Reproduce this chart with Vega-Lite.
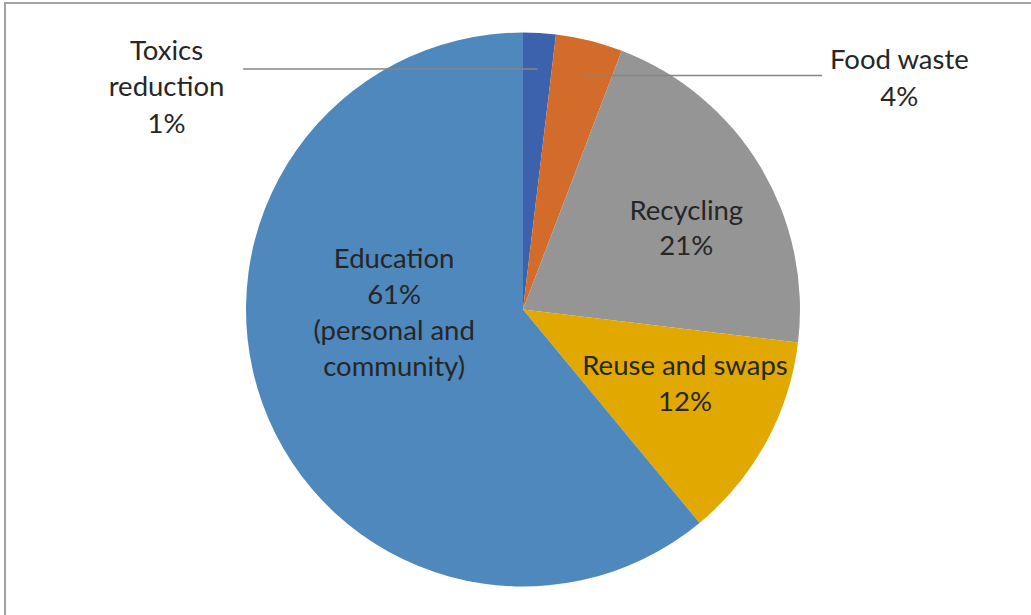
{
  "$schema": "https://vega.github.io/schema/vega-lite/v6.json",
  "width": 1036,
  "height": 613,
  "autosize": {"type": "none"},
  "padding": {"left": 5, "top": 3, "right": 0, "bottom": 0},
  "background": "white",
  "config": {"view": {"stroke": "#a3a3a3", "strokeWidth": 2}},
  "data": {
    "values": [
      {"category": "Toxics reduction", "value": 1.9, "label": "Toxics\nreduction\n1%"},
      {"category": "Food waste", "value": 3.9, "label": "Food waste\n4%"},
      {"category": "Recycling", "value": 21.1, "label": "Recycling\n21%"},
      {"category": "Reuse and swaps", "value": 12.1, "label": "Reuse and swaps\n12%"},
      {"category": "Education", "value": 61.0, "label": "Education\n61%\n(personal and\ncommunity)"}
    ]
  },
  "transform": [{"window": [{"op": "row_number", "as": "idx"}]}],
  "layer": [
    {
      "encoding": {
        "theta": {"field": "value", "type": "quantitative", "stack": true},
        "order": {"field": "idx", "type": "quantitative"}
      },
      "layer": [
        {
          "mark": {"type": "arc", "radius": 277},
          "encoding": {
            "color": {
              "field": "category",
              "type": "nominal",
              "scale": {
                "domain": ["Toxics reduction", "Food waste", "Recycling", "Reuse and swaps", "Education"],
                "range": ["#3c62ae", "#d36b2a", "#959595", "#e1a800", "#4e88bd"]
              },
              "legend": null
            }
          }
        },
        {
          "mark": {"type": "text", "radius": 185, "dx": 5, "dy": -2, "font": "Lato", "fontSize": 27.5, "lineHeight": 35.5, "lineBreak": "\n", "color": "#262626"},
          "encoding": {
            "detail": {"field": "category", "type": "nominal"},
            "text": {"condition": {"test": "datum.category === 'Recycling'", "field": "label"}, "value": ""}
          }
        },
        {
          "mark": {"type": "text", "radius": 180, "dx": 4, "dy": -29, "font": "Lato", "fontSize": 27.5, "lineHeight": 36.5, "lineBreak": "\n", "color": "#262626"},
          "encoding": {
            "detail": {"field": "category", "type": "nominal"},
            "text": {"condition": {"test": "datum.category === 'Reuse and swaps'", "field": "label"}, "value": ""}
          }
        },
        {
          "mark": {"type": "text", "radius": 137, "dx": 0, "dy": -96, "font": "Lato", "fontSize": 27.5, "lineHeight": 36, "lineBreak": "\n", "color": "#262626"},
          "encoding": {
            "detail": {"field": "category", "type": "nominal"},
            "text": {"condition": {"test": "datum.category === 'Education'", "field": "label"}, "value": ""}
          }
        },
        {
          "mark": {"type": "text", "radius": 277, "dx": -373, "dy": 19, "font": "Lato", "fontSize": 27.5, "lineHeight": 36.5, "lineBreak": "\n", "color": "#262626"},
          "encoding": {
            "detail": {"field": "category", "type": "nominal"},
            "text": {"condition": {"test": "datum.category === 'Toxics reduction'", "field": "label"}, "value": ""}
          }
        },
        {
          "mark": {"type": "text", "radius": 277, "dx": 310, "dy": 20, "font": "Lato", "fontSize": 27.5, "lineHeight": 37, "lineBreak": "\n", "color": "#262626"},
          "encoding": {
            "detail": {"field": "category", "type": "nominal"},
            "text": {"condition": {"test": "datum.category === 'Food waste'", "field": "label"}, "value": ""}
          }
        }
      ]
    },
    {
      "transform": [
        {"joinaggregate": [{"op": "sum", "field": "value", "as": "total"}]},
        {"window": [{"op": "sum", "field": "value", "as": "cum"}], "sort": [{"field": "idx"}], "frame": [null, 0]},
        {"filter": "datum.category === 'Toxics reduction' || datum.category === 'Food waste'"},
        {"calculate": "2 * PI * (datum.cum - datum.value / 2) / datum.total", "as": "ang"},
        {"calculate": "0.87 * sin(datum.ang)", "as": "x_in"},
        {"calculate": "0.87 * cos(datum.ang)", "as": "y_in"},
        {"calculate": "datum.category === 'Toxics reduction' ? -1.01 : 1.08", "as": "x_out"}
      ],
      "mark": {"type": "rule", "color": "#858585", "strokeWidth": 1.5},
      "encoding": {
        "x": {"field": "x_in", "type": "quantitative", "scale": {"domain": [-1.87, 1.87], "nice": false, "zero": false}, "axis": null},
        "x2": {"field": "x_out"},
        "y": {"field": "y_in", "type": "quantitative", "scale": {"domain": [-1.1065, 1.1065], "nice": false, "zero": false}, "axis": null}
      }
    }
  ]
}
